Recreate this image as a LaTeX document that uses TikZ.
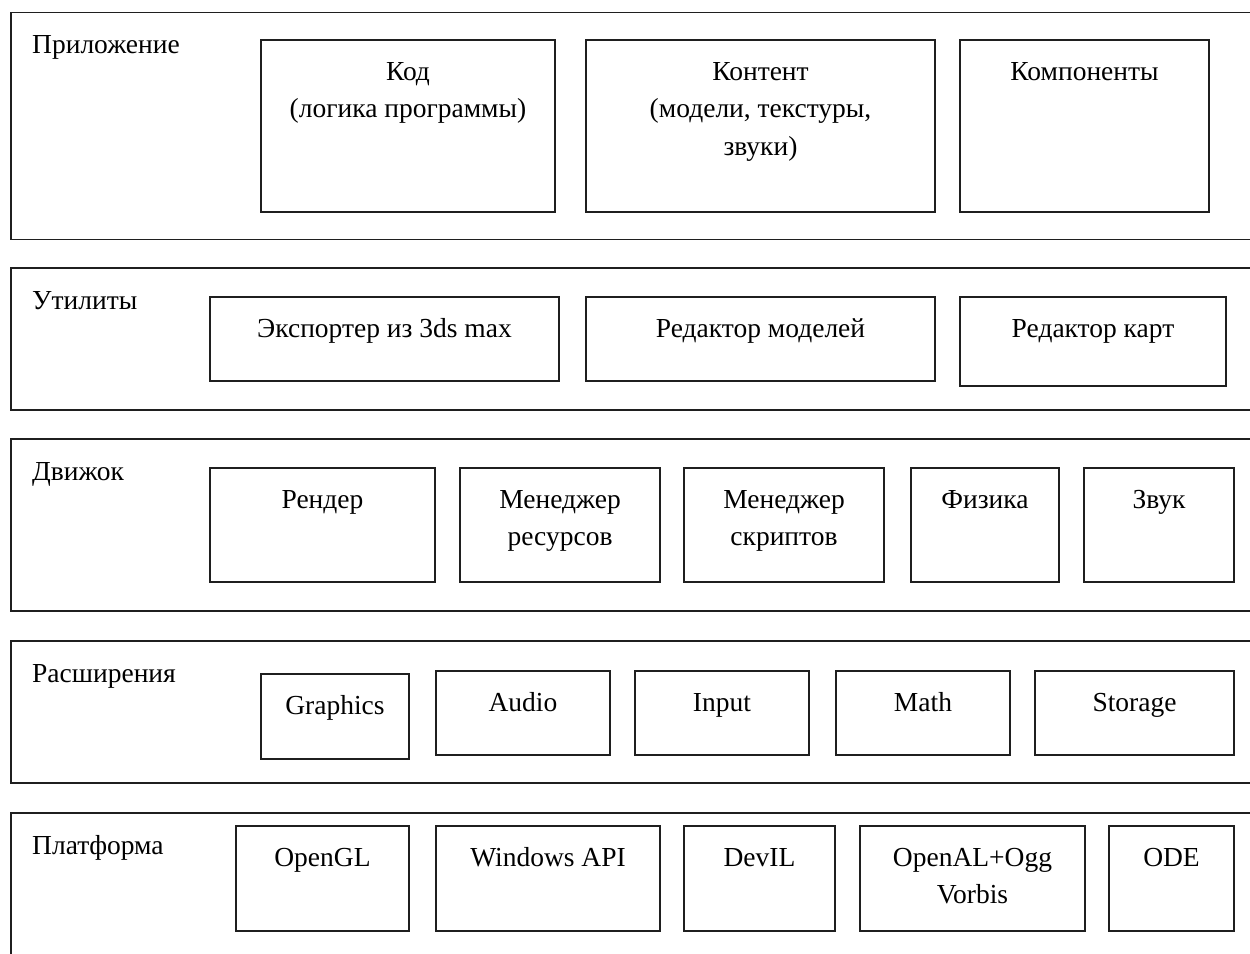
\documentclass[tikz,border=0pt]{standalone}
\usepackage{fontspec}
\setmainfont{Liberation Serif}
\newcommand{\ibox}[6]{%
  \node[ibox, minimum width=#4-#2, minimum height=#5-#3] (#1) at (#2,#3) {};
  \node[itext] (#1t) at ([yshift=-20pt]#1.north) {\rule{0pt}{20pt}#6};
}
\newcommand{\band}[4]{%
  \node[bandbox, minimum height=#3-#2] (#1) at (11,#2) {};
  \node[btext] (#1t) at (32,#2+41) {#4};
}
\begin{document}
\begin{tikzpicture}[x=1pt,y=-1pt,
  bandbox/.style={draw=black!88, line width=1.8pt, inner sep=0pt, outer sep=0pt, anchor=north west, minimum width=1262},
  ibox/.style={draw=black!88, line width=1.7pt, inner sep=0pt, outer sep=0pt, anchor=north west},
  itext/.style={font=\fontsize{27.5}{37.5}\selectfont, anchor=north, inner sep=0pt, align=center},
  btext/.style={font=\fontsize{27.5}{37.5}\selectfont, anchor=base west, inner sep=0pt}]
\useasboundingbox (0,0) rectangle (1250,953);
\clip (0,0) rectangle (1250,953);
\fill[white] (0,0) rectangle (1250,953);
% bands
\band{b1}{12.5}{239.5}{Приложение}
\band{b2}{268}{410}{Утилиты}
\band{b3}{439}{611}{Движок}
\band{b4}{641}{783}{Расширения}
\band{b5}{813}{990}{Платформа}
% application
\ibox{kod}{261}{40}{555}{212}{Код\\(логика программы)}
\ibox{kont}{586}{40}{935}{212}{Контент\\(модели, текстуры,\\звуки)}
\ibox{komp}{960}{40}{1209}{212}{Компоненты}
% utilities
\ibox{exp}{210}{297}{559}{381}{Экспортер из 3ds max}
\ibox{redm}{586}{297}{935}{381}{Редактор моделей}
\ibox{redk}{960}{297}{1226}{386}{Редактор карт}
% engine
\ibox{rend}{210}{468}{435}{582}{Рендер}
\ibox{mres}{460}{468}{660}{582}{Менеджер\\ресурсов}
\ibox{mskr}{684}{468}{884}{582}{Менеджер\\скриптов}
\ibox{fiz}{911}{468}{1059}{582}{Физика}
\ibox{zvuk}{1084}{468}{1234}{582}{Звук}
% extensions
\ibox{gr}{261}{674}{409}{759}{Graphics}
\ibox{au}{436}{671}{610}{755}{Audio}
\ibox{inp}{635}{671}{809}{755}{Input}
\ibox{math}{836}{671}{1010}{755}{Math}
\ibox{stor}{1035}{671}{1234}{755}{Storage}
% platform
\ibox{ogl}{236}{826}{409}{931}{OpenGL}
\ibox{wapi}{436}{826}{660}{931}{Windows API}
\ibox{devil}{684}{826}{835}{931}{DevIL}
\ibox{oal}{860}{826}{1085}{931}{OpenAL+Ogg\\Vorbis}
\ibox{ode}{1109}{826}{1234}{931}{ODE}
\end{tikzpicture}
\end{document}
